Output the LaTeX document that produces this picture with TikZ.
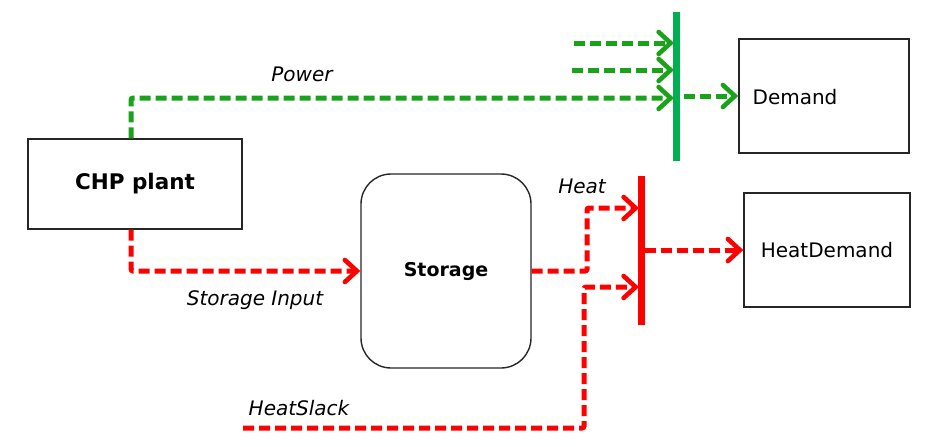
\documentclass[tikz,border=0pt]{standalone}
\usepackage{fontspec}
\setmainfont{DejaVu Sans}
\usetikzlibrary{arrows.meta}
\definecolor{busgreen}{RGB}{0,176,80}
\definecolor{flowgreen}{RGB}{26,163,26}
\definecolor{flowred}{RGB}{255,0,0}
\tikzset{
  box/.style={draw=black!85, line width=1.4pt, fill=white, inner sep=0pt},
  flow/.style={line width=5pt, dash pattern=on 11pt off 5pt, rounded corners=2pt,
    -{Straight Barb[length=12pt,width=22pt,line width=4.6pt,line cap=round]}},
  gflow/.style={flow, draw=flowgreen},
  rflow/.style={flow, draw=flowred},
  bus/.style={inner sep=0pt, minimum width=7pt, minimum height=149pt},
  lbl/.style={font=\fontsize{20}{24}\selectfont\itshape, inner sep=0pt}
}
\begin{document}
\begin{tikzpicture}[x=1pt,y=-1pt]
\useasboundingbox (0,0) rectangle (927,447);
% boxes
\node[box, minimum width=214pt, minimum height=90pt, font=\fontsize{21.5}{25}\selectfont\bfseries] (chp) at (135,184) {CHP plant};
\node[box, rounded corners=30pt, minimum width=170pt, minimum height=194pt, font=\fontsize{19}{22}\selectfont\bfseries] (stor) at (446,271) {Storage};
\node[box, minimum width=170pt, minimum height=114pt] (dem) at (824,96) {};
\node[font=\fontsize{20}{24}\selectfont, inner sep=0pt] (demt) at (795,97) {Demand};
\node[box, minimum width=166pt, minimum height=114pt, font=\fontsize{20}{24}\selectfont] (hdem) at (827,250) {HeatDemand};
% bus bars
\node[bus, fill=busgreen] (gbus) at (676,86) {};
\node[bus, fill=flowred] (rbus) at (641,250) {};
% coordinates
\coordinate (gs1) at (574,43);
\coordinate (gs2) at (572,70);
\coordinate (gin1) at (674,43);
\coordinate (gin2) at (674,70);
\coordinate (gin3) at (674,98);
\coordinate (rk1) at (587,208);
\coordinate (rin1) at (639,208);
\coordinate (hs) at (243,428);
\coordinate (rk2) at (584,287);
\coordinate (rin2) at (639,287);
% green flows
\draw[gflow] ([xshift=-4pt]chp.north) |- (gin3);
\draw[gflow] (gs1) -- (gin1);
\draw[gflow] (gs2) -- (gin2);
\draw[gflow] ([xshift=4pt]gbus.east |- dem.west) -- (dem.west);
% red flows
\draw[rflow] ([xshift=-4pt]chp.south) |- (stor.west);
\draw[rflow] (stor.east) -| (rk1) -- (rin1);
\draw[rflow] (hs) -| (rk2) -- (rin2);
\draw[rflow] (rbus.east |- hdem.west) -- (hdem.west);
% labels
\node[lbl] at (302,74) {Power};
\node[lbl] at (582,186) {Heat};
\node[lbl] at (255,300) {Storage Input};
\node[lbl] at (299,408) {HeatSlack};
\end{tikzpicture}
\end{document}
